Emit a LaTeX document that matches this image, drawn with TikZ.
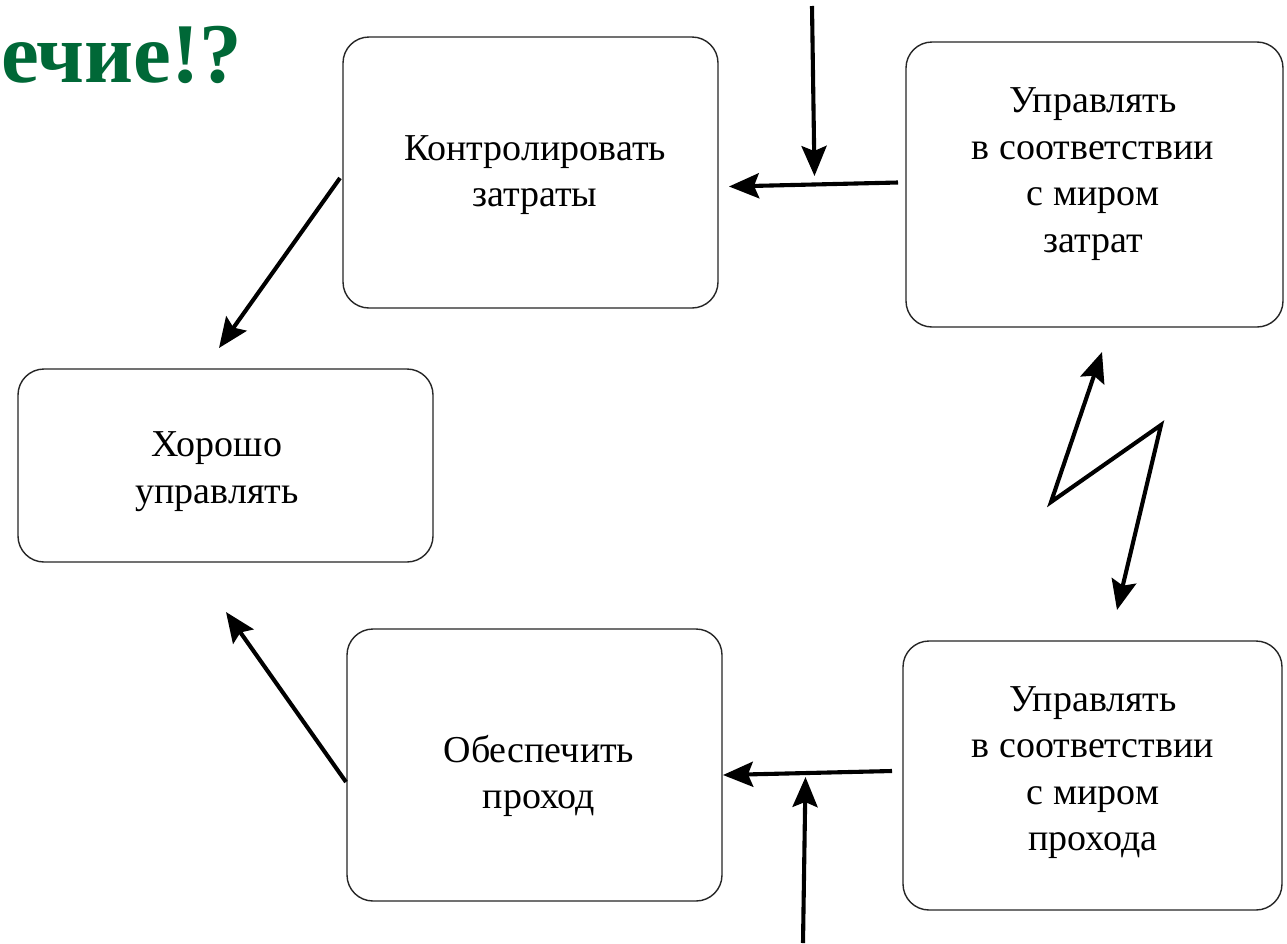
\documentclass[tikz,border=0pt]{standalone}
\usepackage{fontspec}
\setmainfont{Liberation Serif}
\usetikzlibrary{arrows.meta}
\definecolor{titlegreen}{RGB}{0,104,55}
\tikzset{
  box/.style={draw=black!85, line width=1.4pt, rounded corners=26pt, inner sep=0pt},
  lbl/.style={align=center, inner sep=0pt, font=\fontsize{38}{46.5}\selectfont},
  arr/.style={line width=4.1pt, -{Stealth[length=30pt,width=25pt,inset=5pt]}},
  darr/.style={line width=4.1pt, {Stealth[length=30pt,width=25pt,inset=5pt]}-{Stealth[length=30pt,width=25pt,inset=5pt]}},
}
\begin{document}
\begin{tikzpicture}[x=1pt,y=-1pt]
\useasboundingbox (0,0) rectangle (1287,943);
\clip (0,0) rectangle (1287,943);
\fill[white] (0,0) rectangle (1287,943);

% title fragment
\node[anchor=base west, inner sep=0pt, text=titlegreen, font=\fontsize{85}{88}\selectfont\bfseries] (title) at (1,82) {ечие!?};

% boxes
\node[box, minimum width=375pt, minimum height=271pt] (b1) at (530.5,172.5) {};
\node[box, minimum width=377pt, minimum height=285pt] (b2) at (1094.5,184.5) {};
\node[box, minimum width=415pt, minimum height=193pt] (b3) at (225.5,465.5) {};
\node[box, minimum width=375pt, minimum height=272pt] (b4) at (534.5,765) {};
\node[box, minimum width=379pt, minimum height=269pt] (b5) at (1092.5,775.5) {};

% labels
\node[lbl] (t1) at (535,175) {Контролировать\\затраты};
\node[lbl] (t2) at (1093,174) {Управлять\\в соответствии\\с миром\\затрат};
\node[lbl] (t3) at (217,471.5) {Хорошо\\управлять};
\node[lbl] (t4) at (539,776) {Обеспечить\\проход};
\node[lbl] (t5) at (1093,772.5) {Управлять\\в соответствии\\с миром\\прохода};

% connector end points
\coordinate (a1s) at (898,182.5);
\coordinate (a1e) at (729,186.5);
\coordinate (a2s) at (812,6);
\coordinate (a2e) at (814.5,176);
\coordinate (a3s) at (340,178);
\coordinate (a3e) at (219,348);
\coordinate (a4s) at (346,782);
\coordinate (a4e) at (226,612);
\coordinate (a5s) at (892,771);
\coordinate (a5e) at (723,775);
\coordinate (a6s) at (803,943);
\coordinate (a6e) at (805.5,777);
\coordinate (l1) at (1102,352);
\coordinate (l2) at (1051,502);
\coordinate (l3) at (1161,425);
\coordinate (l4) at (1117,610);

% connectors
\draw[arr] (a1s) -- (a1e);
\draw[arr] (a2s) -- (a2e);
\draw[arr] (a3s) -- (a3e);
\draw[arr] (a4s) -- (a4e);
\draw[arr] (a5s) -- (a5e);
\draw[arr] (a6s) -- (a6e);
\draw[darr] (l1) -- (l2) -- (l3) -- (l4);
\end{tikzpicture}
\end{document}
